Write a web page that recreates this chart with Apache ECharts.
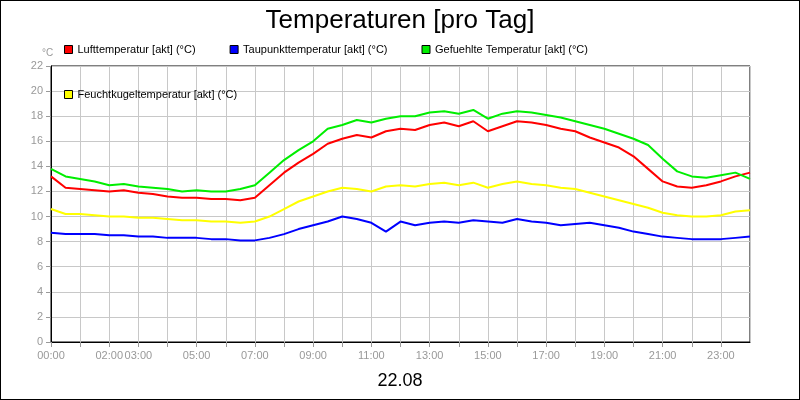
<!DOCTYPE html><html><head><meta charset="utf-8">
<script src="https://cdn.jsdelivr.net/npm/echarts@6/dist/echarts.min.js"></script>
<style>body{margin:0}#c{width:798px;height:398px;border:1px solid #000}</style></head><body><div id="c"></div><script>
const hours=[0,0.5,1,1.5,2,2.5,3,3.5,4,4.5,5,5.5,6,6.5,7,7.5,8,8.5,9,9.5,10,10.5,11,11.5,12,12.5,13,13.5,14,14.5,15,15.5,16,16.5,17,17.5,18,18.5,19,19.5,20,20.5,21,21.5,22,22.5,23,23.5,24];
const luft=[13.2,12.3,12.2,12.1,12.0,12.1,11.9,11.8,11.6,11.5,11.5,11.4,11.4,11.3,11.5,12.5,13.5,14.3,15.0,15.8,16.2,16.5,16.3,16.8,17.0,16.9,17.3,17.5,17.2,17.6,16.8,17.2,17.6,17.5,17.3,17.0,16.8,16.3,15.9,15.5,14.8,13.8,12.8,12.4,12.3,12.5,12.8,13.2,13.5];
const taupunkt=[8.7,8.6,8.6,8.6,8.5,8.5,8.4,8.4,8.3,8.3,8.3,8.2,8.2,8.1,8.1,8.3,8.6,9.0,9.3,9.6,10.0,9.8,9.5,8.8,9.6,9.3,9.5,9.6,9.5,9.7,9.6,9.5,9.8,9.6,9.5,9.3,9.4,9.5,9.3,9.1,8.8,8.6,8.4,8.3,8.2,8.2,8.2,8.3,8.4];
const gefuehlt=[13.8,13.2,13.0,12.8,12.5,12.6,12.4,12.3,12.2,12.0,12.1,12.0,12.0,12.2,12.5,13.5,14.5,15.3,16.0,17.0,17.3,17.7,17.5,17.8,18.0,18.0,18.3,18.4,18.2,18.5,17.8,18.2,18.4,18.3,18.1,17.9,17.6,17.3,17.0,16.6,16.2,15.7,14.6,13.6,13.2,13.1,13.3,13.5,13.0];
const feucht=[10.6,10.2,10.2,10.1,10.0,10.0,9.9,9.9,9.8,9.7,9.7,9.6,9.6,9.5,9.6,10.0,10.6,11.2,11.6,12.0,12.3,12.2,12.0,12.4,12.5,12.4,12.6,12.7,12.5,12.7,12.3,12.6,12.8,12.6,12.5,12.3,12.2,11.9,11.6,11.3,11.0,10.7,10.3,10.1,10.0,10.0,10.1,10.4,10.5];
const tickHours=[0,2,3,5,7,9,11,13,15,17,19,21,23];
const names=['Lufttemperatur [akt] (°C)','Taupunkttemperatur [akt] (°C)','Gefuehlte Temperatur [akt] (°C)','Feuchtkugeltemperatur [akt] (°C)'];
const cols=['#ff0000','#0000ff','#00ee00','#ffff00'];
const data=[luft,taupunkt,gefuehlt,feucht];
const ch=echarts.init(document.getElementById('c'));
ch.setOption({animation:false,
title:[{text:'Temperaturen [pro Tag]',left:'center',top:2,textStyle:{fontFamily:'Liberation Sans',fontSize:26,fontWeight:'normal',color:'#000'}},
{text:'22.08',left:'center',top:366,textStyle:{fontFamily:'Liberation Sans',fontSize:18,fontWeight:'normal',color:'#000'}},
{text:'°C',left:36,top:42,textStyle:{fontFamily:'Liberation Sans',fontSize:10,fontWeight:'normal',color:'#999'}}],
legend:{top:38,left:58,itemGap:34,itemWidth:8,itemHeight:8,icon:'rect',textStyle:{fontFamily:'Liberation Sans Narrow, Liberation Sans',fontSize:11,color:'#000'},
data:names.map((n,i)=>({name:n,itemStyle:{color:cols[i],borderColor:'#000',borderWidth:1}}))},
grid:{left:50,right:49,top:65,bottom:57,show:true,borderColor:'#000',borderWidth:1},
xAxis:{type:'value',min:0,max:24,interval:1,axisLine:{lineStyle:{color:'#000',width:1}},axisTick:{lineStyle:{color:'#999'}},
splitLine:{show:true,lineStyle:{color:'#c8c8c8'}},
axisLabel:{color:'#999',fontFamily:'Liberation Sans',fontSize:11,showMaxLabel:false,formatter:v=>tickHours.includes(v)?String(v).padStart(2,'0')+':00':''}},
yAxis:{type:'value',min:0,max:22,interval:2,axisLine:{show:true,lineStyle:{color:'#000'}},axisTick:{show:true,lineStyle:{color:'#999'}},
splitLine:{lineStyle:{color:'#c8c8c8'}},axisLabel:{color:'#999',fontFamily:'Liberation Sans',fontSize:11}},
series:names.map((n,i)=>({name:n,type:'line',showSymbol:false,color:cols[i],lineStyle:{width:2,color:cols[i]},data:hours.map((h,j)=>[h,data[i][j]])}))
});
</script></body></html>
